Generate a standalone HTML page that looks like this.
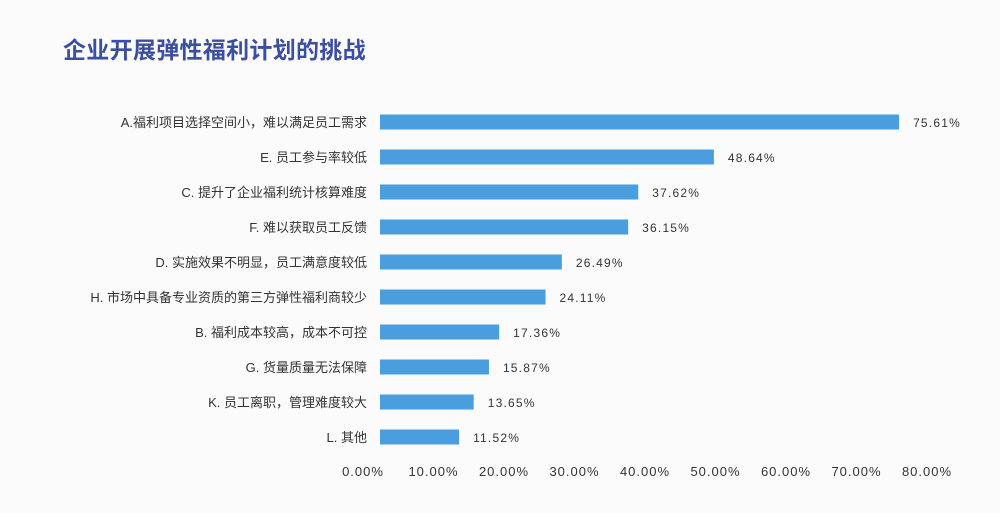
<!DOCTYPE html>
<html><head><meta charset="utf-8"><style>
body{margin:0;width:1000px;height:513px;background:#fbfbfc;font-family:"Liberation Sans","Noto Sans CJK SC",sans-serif;overflow:hidden}
#title{position:absolute;left:63px;top:31px;font-size:23px;font-weight:bold;color:#3c4e9f;margin:0;letter-spacing:0.3px}
svg{position:absolute;left:0;top:0}
</style></head><body>
<h1 id="title">企业开展弹性福利计划的挑战</h1>
<svg id="chart" width="1000" height="513"></svg>
<script>
const categories=["A.福利项目选择空间小，难以满足员工需求","E. 员工参与率较低","C. 提升了企业福利统计核算难度","F. 难以获取员工反馈","D. 实施效果不明显，员工满意度较低","H. 市场中具备专业资质的第三方弹性福利商较少","B. 福利成本较高，成本不可控","G. 货量质量无法保障","K. 员工离职，管理难度较大","L.  其他"];
const values=[75.61,48.64,37.62,36.15,26.49,24.11,17.36,15.87,13.65,11.52];
const tickValues=[0,10,20,30,40,50,60,70,80];
const tickLabels=["0.00%","10.00%","20.00%","30.00%","40.00%","50.00%","60.00%","70.00%","80.00%"];
const NS="http://www.w3.org/2000/svg";
const svg=document.getElementById("chart");
const x0=380,pxPer=6.865;
const xs=v=>x0+v*pxPer;
const tickX=v=>363+v*7.05;
const ys=i=>122+i*35;
function mk(t,a){const e=document.createElementNS(NS,t);for(const k in a)e.setAttribute(k,a[k]);svg.appendChild(e);return e;}
categories.forEach((c,i)=>{
  const y=ys(i);
  const l=mk("text",{x:367,y:y+5,"text-anchor":"end","font-size":13,fill:"#333"});
  l.textContent=c;
  
  
  const r=mk("rect",{x:x0,y:y-7.5,width:xs(values[i])-x0,height:15,fill:"#4a9ede"});
  
  
  const v=mk("text",{x:xs(values[i])+14,y:y+5,"font-size":12,fill:"#333","letter-spacing":"1.2"});
  v.textContent=values[i].toFixed(2)+"%";
  
  
});
tickValues.forEach((t,i)=>{
  const e=mk("text",{x:tickX(t),y:476,"text-anchor":"middle","font-size":13,fill:"#333","letter-spacing":"1"});
  e.textContent=tickLabels[i];
  
  
});
</script>
</body></html>
